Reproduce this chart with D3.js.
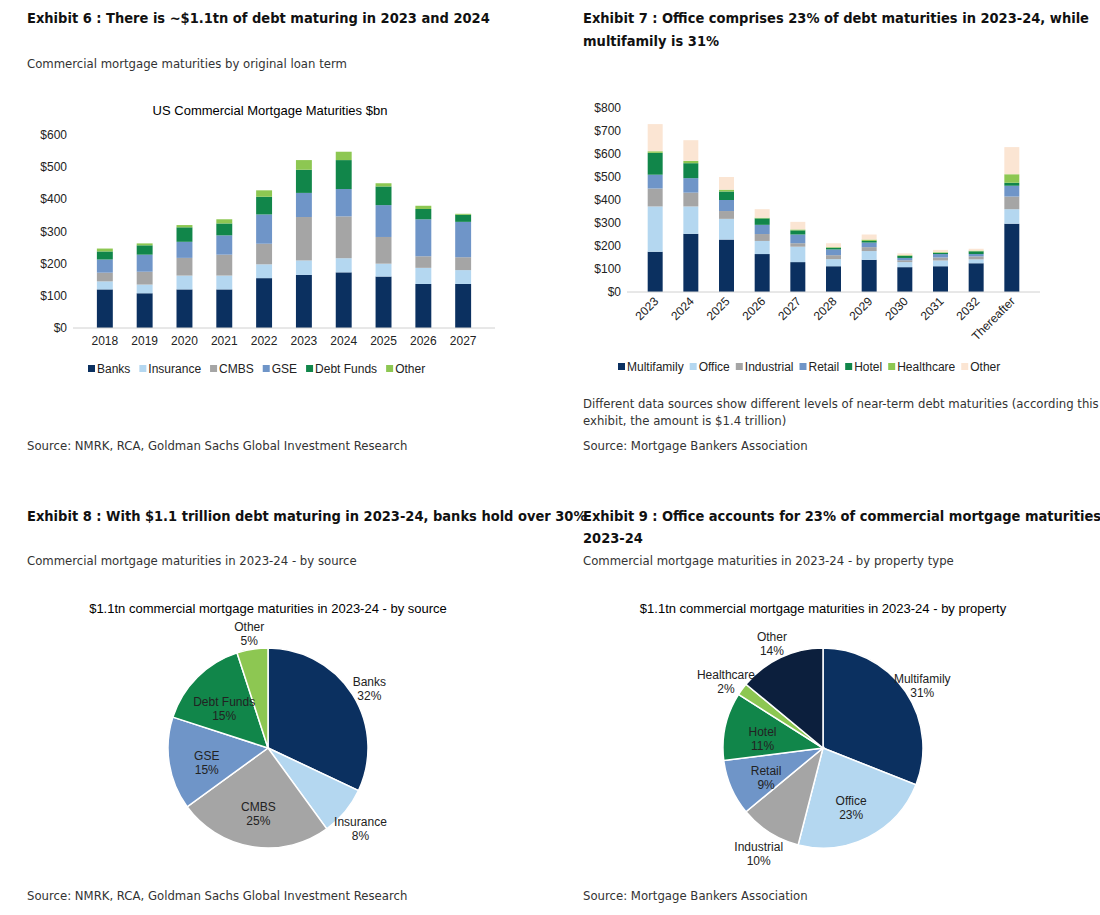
<!DOCTYPE html>
<html><head><meta charset="utf-8">
<script src="https://cdn.jsdelivr.net/npm/d3@7"></script>
<style>
body{margin:0;background:#fff}
text{font-family:Arial,"Liberation Sans",sans-serif}
.t{font-family:"DejaVu Sans Condensed","DejaVu Sans",Arial;font-stretch:condensed;font-weight:bold;font-size:14.5px;fill:#111}
.s{font-family:"DejaVu Sans Condensed","DejaVu Sans",Arial;font-stretch:condensed;font-size:13px;fill:#333}
</style></head><body>
<svg id="c" width="1100" height="915"></svg>
<script>
// Exhibit 6 data
const years6 = ["2018","2019","2020","2021","2022","2023","2024","2025","2026","2027"];
const src6 = ["Banks","Insurance","CMBS","GSE","Debt Funds","Other"];
const banks = [120,108,120,120,155,165,173,160,137,137];
const insurance = [25,27,43,43,43,45,44,40,50,43];
const cmbs = [27,40,55,65,64,135,130,83,36,40];
const gse = [41,53,50,60,91,75,85,99,115,110];
const debtFunds = [25,29,45,37,55,72,90,58,32,22];
const other6 = [9,6,7,13,20,30,26,10,10,3];
const col6 = ["#0b3060","#b4d7f0","#a5a5a5","#6f95c8","#11864a","#8dc752"];
const yTicks6 = [0,100,200,300,400,500,600];

// Exhibit 7 data
const years7 = ["2023","2024","2025","2026","2027","2028","2029","2030","2031","2032","Thereafter"];
const types7 = ["Multifamily","Office","Industrial","Retail","Hotel","Healthcare","Other"];
const multifamily = [175,253,228,165,130,112,140,108,112,125,297];
const office = [197,119,90,57,67,31,38,22,25,17,63];
const industrial = [78,60,34,30,15,17,17,8,13,13,55];
const retail = [60,63,48,40,38,25,20,10,15,10,47];
const hotel = [95,65,37,28,18,7,7,9,5,12,13];
const healthcare = [7,10,8,3,4,3,6,3,3,3,37];
const other7 = [118,90,55,37,33,17,22,8,10,8,118];
const col7 = ["#0b3060","#b4d7f0","#a5a5a5","#6f95c8","#11864a","#8dc752","#fbe5d3"];
const yTicks7 = [0,100,200,300,400,500,600,700,800];

// Pies
const pie8Labels = ["Banks","Insurance","CMBS","GSE","Debt Funds","Other"];
const pie8Values = [32,8,25,15,15,5];
const pie8Inside = [false,false,true,true,true,false];
const pie9Labels = ["Multifamily","Office","Industrial","Retail","Hotel","Healthcare","Other"];
const pie9Values = [31,23,10,9,11,2,14];
const pie9Inside = [false,true,false,true,true,false,false];
const col9 = ["#0b3060","#b4d7f0","#a5a5a5","#6f95c8","#11864a","#8dc752","#0c1f3d"];

const svg = d3.select("#c");
function txt(x,y,s,cls,anchor){svg.append("text").attr("x",x).attr("y",y).attr("class",cls||null).attr("text-anchor",anchor||"start").text(s);}

// headers
txt(27,23,"Exhibit 6 : There is ~$1.1tn of debt maturing in 2023 and 2024","t");
txt(27,68,"Commercial mortgage maturities by original loan term","s");
txt(27,450,"Source: NMRK, RCA, Goldman Sachs Global Investment Research","s");
txt(583,23,"Exhibit 7 : Office comprises 23% of debt maturities in 2023-24, while","t");
txt(583,46,"multifamily is 31%","t");
txt(583,408,"Different data sources show different levels of near-term debt maturities (according this","s");
txt(583,425,"exhibit, the amount is $1.4 trillion)","s");
txt(583,450,"Source: Mortgage Bankers Association","s");
txt(27,521,"Exhibit 8 : With $1.1 trillion debt maturing in 2023-24, banks hold over 30%","t");
txt(27,565,"Commercial mortgage maturities in 2023-24 - by source","s");
txt(27,900,"Source: NMRK, RCA, Goldman Sachs Global Investment Research","s");
txt(583,521,"Exhibit 9 : Office accounts for 23% of commercial mortgage maturities in","t");
txt(583,543,"2023-24","t");
txt(583,565,"Commercial mortgage maturities in 2023-24 - by property type","s");
txt(583,900,"Source: Mortgage Bankers Association","s");

function stackedBars(cfg){
  const g = svg.append("g");
  const x = d3.scaleBand().domain(cfg.cats).range(cfg.xr).padding(cfg.pad);
  const y = d3.scaleLinear().domain([0,cfg.ymax]).range(cfg.yr);
  const rows = cfg.cats.map((c,i)=>{const o={cat:c};cfg.keys.forEach((k,j)=>o[k]=cfg.series[j][i]);return o;});
  const st = d3.stack().keys(cfg.keys)(rows);
  st.forEach((s,j)=>{
    g.selectAll(null).data(s).join("rect").attr("x",d=>x(d.data.cat)).attr("width",x.bandwidth())
      .attr("y",d=>y(d[1])).attr("height",d=>y(d[0])-y(d[1])).attr("fill",cfg.colors[j]);
  });
  g.append("line").attr("x1",cfg.xr[0]).attr("x2",cfg.xr[1]).attr("y1",y(0)).attr("y2",y(0)).attr("stroke","#d0d0d0");
  g.selectAll(null).data(cfg.ticks).join("text").attr("x",cfg.xr[0]-6).attr("y",d=>y(d)+4)
    .attr("text-anchor","end").attr("font-size",12).attr("fill","#222").text(d=>"$"+d);
  const xl = g.selectAll(null).data(cfg.cats).join("text").attr("font-size",12).attr("fill","#222").text(d=>d);
  if(cfg.rotate){
    xl.attr("text-anchor","end").attr("transform",d=>`translate(${x(d)+x.bandwidth()/2+4},${y(0)+10}) rotate(-45)`);
  } else {
    xl.attr("text-anchor","middle").attr("x",d=>x(d)+x.bandwidth()/2).attr("y",y(0)+17);
  }
  // legend
  let lx = cfg.legX;
  cfg.keys.forEach((k,j)=>{
    g.append("rect").attr("x",lx).attr("y",cfg.legY-8).attr("width",7).attr("height",7).attr("fill",cfg.colors[j]);
    const t = g.append("text").attr("x",lx+9).attr("y",cfg.legY).attr("font-size",12).attr("fill","#222").text(k);
    lx += t.node().getComputedTextLength()+cfg.legGap;
  });
}

svg.append("text").attr("x",270).attr("y",115).attr("text-anchor","middle").attr("font-size",13).text("US Commercial  Mortgage  Maturities $bn");
stackedBars({cats:years6,keys:src6,series:[banks,insurance,cmbs,gse,debtFunds,other6],colors:col6,
  xr:[73,495],yr:[328,135],ymax:600,ticks:yTicks6,pad:0.6,legX:88,legY:373,legGap:18});
stackedBars({cats:years7,keys:types7,series:[multifamily,office,industrial,retail,hotel,healthcare,other7],colors:col7,
  xr:[627,1040],yr:[292,108],ymax:800,ticks:yTicks7,pad:0.58,rotate:true,legX:618,legY:371,legGap:15});

function pie(cx,cy,r,title,labels,values,colors,inside){
  svg.append("text").attr("x",cx).attr("y",613).attr("text-anchor","middle").attr("font-size",13).text(title);
  const g = svg.append("g").attr("transform",`translate(${cx},${cy})`);
  const arcs = d3.pie().sort(null)(values);
  const arc = d3.arc().innerRadius(0).outerRadius(r);
  g.selectAll(null).data(arcs).join("path").attr("d",arc).attr("fill",(d,i)=>colors[i]).attr("stroke","#fff").attr("stroke-width",1.5);
  arcs.forEach((d,i)=>{
    const rr = inside[i]? r*0.62 : r*1.2;
    const a = (d.startAngle+d.endAngle)/2;
    const px = Math.sin(a)*rr, py = -Math.cos(a)*rr;
    const t = g.append("text").attr("text-anchor","middle").attr("font-size",12).attr("fill","#222");
    t.append("tspan").attr("x",px).attr("y",py+2).text(labels[i]);
    t.append("tspan").attr("x",px).attr("y",py+16).text(values[i]+"%");
  });
}
pie(268,748,100,"$1.1tn commercial  mortgage  maturities in 2023-24  - by source",pie8Labels,pie8Values,col6,pie8Inside);
pie(823,748,100,"$1.1tn commercial  mortgage  maturities in 2023-24  - by property",pie9Labels,pie9Values,col9,pie9Inside);
</script></body></html>
